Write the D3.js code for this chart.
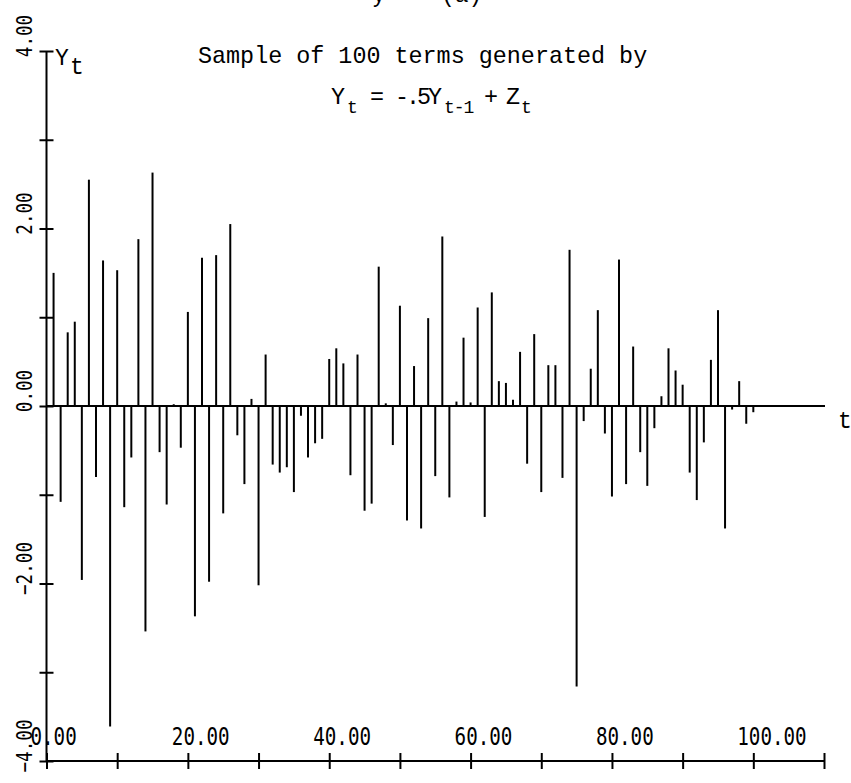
<!DOCTYPE html>
<html>
<head>
<meta charset="utf-8">
<script src="https://cdn.jsdelivr.net/npm/d3@7"></script>
<style>
  html, body { margin: 0; padding: 0; background: #fff; }
  svg { display: block; }
</style>
</head>
<body>
<svg id="chart" width="851" height="783"></svg>
<script>
// sample of 100 terms
const timeSteps = d3.range(1, 101)
const seriesValues = [
  1.50, -1.08, 0.83, 0.95, -1.96, 2.55, -0.80, 1.64, -3.61, 1.53,
  -1.14, -0.58, 1.88, -2.54, 2.63, -0.52, -1.11, 0.02, -0.47, 1.06,
  -2.37, 1.67, -1.98, 1.70, -1.21, 2.05, -0.33, -0.88, 0.08, -2.02,
  0.58, -0.66, -0.75, -0.69, -0.97, -0.11, -0.58, -0.42, -0.37, 0.53,
  0.65, 0.48, -0.78, 0.58, -1.18, -1.10, 1.57, 0.03, -0.44, 1.13,
  -1.29, 0.45, -1.38, 0.99, -0.79, 1.91, -1.03, 0.05, 0.77, 0.04,
  1.11, -1.25, 1.28, 0.28, 0.26, 0.07, 0.61, -0.65, 0.81, -0.97,
  0.46, 0.46, -0.81, 1.76, -3.16, -0.17, 0.42, 1.08, -0.31, -1.02,
  1.65, -0.88, 0.67, -0.52, -0.90, -0.25, 0.11, 0.65, 0.40, 0.24,
  -0.75, -1.06, -0.41, 0.52, 1.08, -1.38, -0.04, 0.28, -0.20, -0.07,
]
const xTickValues = d3.range(0, 111, 10)
const xTickLabels = [0, 20, 40, 60, 80, 100]
const yTickValues = d3.range(-4, 5, 1)
const yTickLabels = [-4, -2, 0, 2, 4]

const data = timeSteps.map((t, i) => ({ t: t, value: seriesValues[i] }))

const width = 851
const height = 783
const svg = d3.select('#chart')

const monoFont = "'Liberation Mono', 'Courier New', monospace"
const plotFont = "'DejaVu Sans Mono', monospace"
const fmt = d3.format('.2f')

// scales
const x = d3.scaleLinear().domain([0, 110]).range([46.5, 824])
const y = d3.scaleLinear().domain([-4, 4]).range([761, 51])

// background
svg
  .append('rect')
  .attr('width', width)
  .attr('height', height)
  .attr('fill', '#fff')

// spikes
svg
  .append('g')
  .attr('id', 'spikes')
  .selectAll('line')
  .data(data)
  .join('line')
  .attr('x1', (d) => x(d.t))
  .attr('x2', (d) => x(d.t))
  .attr('y1', y(0))
  .attr('y2', (d) => y(d.value))
  .attr('stroke', '#000')
  .attr('stroke-width', 2)

// zero line
svg
  .append('line')
  .attr('x1', x(0))
  .attr('x2', x(110) + 1)
  .attr('y1', y(0))
  .attr('y2', y(0))
  .attr('stroke', '#000')
  .attr('stroke-width', 2)

// x axis (ticks cross the line)
const xAxis = svg
  .append('g')
  .attr('id', 'xAxis')
  .attr('transform', 'translate(0,' + (y(-4) - 8) + ')')
  .call(
    d3.axisBottom(x).tickValues(xTickValues).tickSize(16).tickSizeOuter(0).tickFormat('')
  )
xAxis.select('.domain').remove()
xAxis.selectAll('line').attr('stroke', '#000').attr('stroke-width', 2)

svg
  .append('line')
  .attr('x1', x(0))
  .attr('x2', x(110))
  .attr('y1', y(-4))
  .attr('y2', y(-4))
  .attr('stroke', '#000')
  .attr('stroke-width', 2)

svg
  .append('g')
  .attr('id', 'xLabels')
  .selectAll('text')
  .data(xTickLabels)
  .join('text')
  .attr('transform', (d) => 'translate(' + (x(d) - 16) + ',' + (y(-4) - 16) + ') scale(0.8,1)')
  .attr('font-family', plotFont)
  .attr('font-size', 24)
  .attr('fill', '#000')
  .text((d) => fmt(d))

// y axis
const yAxis = svg
  .append('g')
  .attr('id', 'yAxis')
  .attr('transform', 'translate(' + (x(0) - 7) + ',0)')
  .call(
    d3.axisRight(y).tickValues(yTickValues).tickSize(14).tickSizeOuter(0).tickFormat('')
  )
yAxis.select('.domain').remove()
yAxis.selectAll('line').attr('stroke', '#000').attr('stroke-width', 2)

svg
  .append('line')
  .attr('x1', x(0))
  .attr('x2', x(0))
  .attr('y1', y(4))
  .attr('y2', y(-4))
  .attr('stroke', '#000')
  .attr('stroke-width', 2)

svg
  .append('g')
  .attr('id', 'yLabels')
  .selectAll('text')
  .data(yTickLabels)
  .join('text')
  .attr('transform', (d) => 'translate(32,' + (y(d) - 15) + ') rotate(-90) scale(0.8,1)')
  .attr('font-family', plotFont)
  .attr('font-size', 22)
  .attr('text-anchor', 'middle')
  .attr('fill', '#000')
  .text((d) => fmt(d))

// axis names
const yName = svg
  .append('text')
  .attr('font-family', monoFont)
  .attr('font-size', 23)
  .attr('fill', '#000')
yName.append('tspan').attr('x', 55).attr('y', 65).text('Y')
yName.append('tspan').attr('x', 70).attr('y', 74).text('t')

svg
  .append('text')
  .attr('x', 838)
  .attr('y', 428)
  .attr('font-family', monoFont)
  .attr('font-size', 23)
  .attr('fill', '#000')
  .text('t')

// cut-off heading at the very top (only its descenders show in the original)
svg
  .append('text')
  .attr('x', 372)
  .attr('y', 2)
  .attr('font-family', monoFont)
  .attr('font-size', 23)
  .attr('fill', '#000')
  .style('white-space', 'pre')
  .text('y    (a)')

// title
svg
  .append('text')
  .attr('x', 198)
  .attr('y', 63)
  .attr('font-family', monoFont)
  .attr('font-size', 23.4)
  .attr('fill', '#000')
  .text('Sample of 100 terms generated by')

const formula = svg
  .append('text')
  .attr('font-family', monoFont)
  .attr('font-size', 23.4)
  .attr('fill', '#000')

const mainBase = 104
const subBase = 113
const parts = [
  { text: 'Y', x: 331, sub: false },
  { text: 't', x: 347, sub: true },
  { text: '=', x: 370, sub: false },
  { text: '-.5Y', x: 395, sub: false, spacing: -3 },
  { text: 't-1', x: 444, sub: true, spacing: -1 },
  { text: '+', x: 484, sub: false },
  { text: 'Z', x: 506, sub: false },
  { text: 't', x: 521, sub: true },
]
formula
  .selectAll('tspan')
  .data(parts)
  .join('tspan')
  .attr('x', (d) => d.x)
  .attr('y', (d) => (d.sub ? subBase : mainBase))
  .attr('font-size', (d) => (d.sub ? 18 : 23.4))
  .attr('letter-spacing', (d) => d.spacing || 0)
  .text((d) => d.text)
</script>
</body>
</html>
